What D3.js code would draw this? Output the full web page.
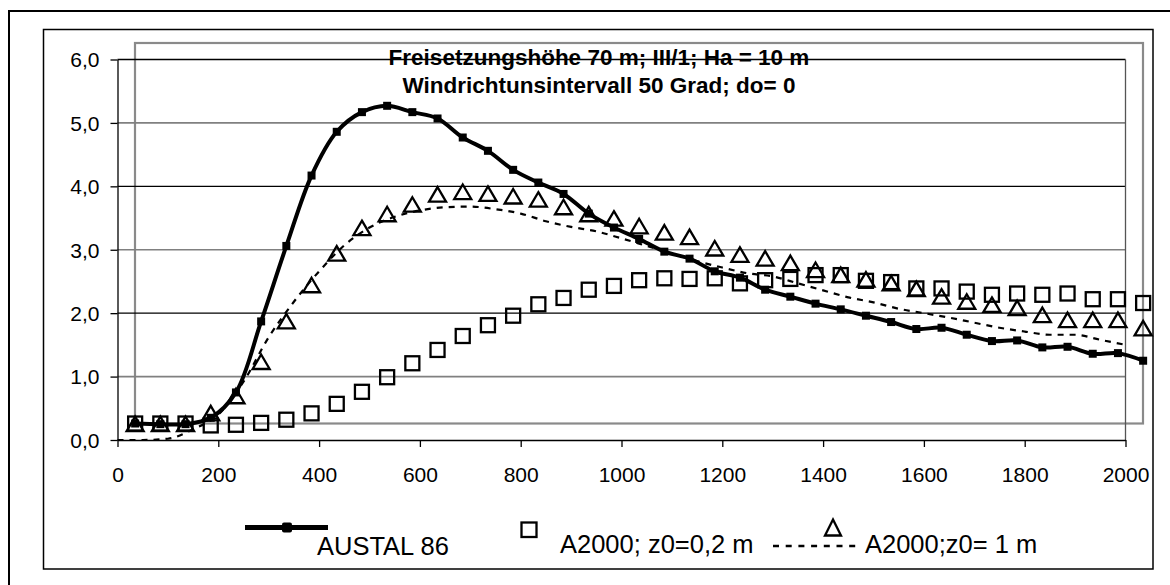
<!DOCTYPE html>
<html>
<head>
<meta charset="utf-8">
<script src="https://cdn.jsdelivr.net/npm/d3@7"></script>
<style>
  body { margin: 0; background: #fff; }
  svg { display: block; font-family: "Liberation Sans", Arial, sans-serif; }
  .axis text { font-size: 21px; fill: #000; }
  .axis path, .axis line { stroke: #000; stroke-width: 1.3; }
  .title { font-size: 22.5px; font-weight: bold; text-anchor: middle; }
  .legend-label { font-size: 25.5px; }
</style>
</head>
<body>
<svg id="chart"></svg>
<script>
// distance (m) of the model points
const distances = [35, 85, 135, 185, 235, 285, 335, 385, 435, 485, 535, 585, 635, 685, 735,
  785, 835, 885, 935, 985, 1035, 1085, 1135, 1185, 1235, 1285, 1335, 1385, 1435, 1485,
  1535, 1585, 1635, 1685, 1735, 1785, 1835, 1885, 1935, 1985, 2035];

const austal86 = [0.26, 0.25, 0.25, 0.35, 0.75, 1.87, 3.06, 4.17, 4.86, 5.17, 5.27, 5.17,
  5.07, 4.77, 4.56, 4.26, 4.06, 3.88, 3.57, 3.35, 3.17, 2.97, 2.86, 2.66, 2.56, 2.37,
  2.26, 2.15, 2.06, 1.96, 1.86, 1.75, 1.77, 1.66, 1.56, 1.57, 1.46, 1.47, 1.36, 1.37, 1.25];

const a2000z02 = [0.26, 0.26, 0.26, 0.23, 0.24, 0.27, 0.32, 0.42, 0.57, 0.76, 0.99, 1.21,
  1.42, 1.64, 1.81, 1.96, 2.14, 2.24, 2.37, 2.43, 2.52, 2.55, 2.54, 2.55, 2.47, 2.52,
  2.54, 2.60, 2.60, 2.51, 2.49, 2.39, 2.39, 2.34, 2.29, 2.31, 2.29, 2.31, 2.22, 2.22, 2.16];

const a2000z1 = [0.25, 0.25, 0.25, 0.42, 0.69, 1.23, 1.87, 2.44, 2.94, 3.34, 3.56, 3.71,
  3.87, 3.91, 3.88, 3.84, 3.79, 3.67, 3.56, 3.49, 3.37, 3.27, 3.20, 3.02, 2.92, 2.86,
  2.79, 2.68, 2.60, 2.53, 2.47, 2.38, 2.26, 2.18, 2.13, 2.08, 1.97, 1.89, 1.89, 1.89, 1.76];

// dotted curve (separate grid)
const curveDist = [0, 50, 100, 150, 200, 250, 300, 350, 400, 450, 500, 550, 600, 650, 700,
  750, 800, 850, 900, 950, 1000, 1050, 1100, 1150, 1200, 1250, 1300, 1350, 1400, 1450,
  1500, 1550, 1600, 1650, 1700, 1750, 1800, 1850, 1900, 1950, 2000];
const curveValues = [0.00, 0.00, 0.02, 0.17, 0.40, 0.92, 1.62, 2.18, 2.66, 3.07, 3.35,
  3.52, 3.62, 3.67, 3.68, 3.64, 3.57, 3.45, 3.36, 3.29, 3.18, 3.06, 2.94, 2.82, 2.72,
  2.63, 2.58, 2.47, 2.36, 2.25, 2.17, 2.07, 2.00, 1.93, 1.85, 1.77, 1.71, 1.66, 1.66,
  1.58, 1.50];

const xTicks = [0, 200, 400, 600, 800, 1000, 1200, 1400, 1600, 1800, 2000];
const yTicks = [0, 1, 2, 3, 4, 5, 6];
const titleLines = ["Freisetzungshöhe 70 m; III/1; Ha = 10 m", "Windrichtunsintervall 50 Grad; do= 0"];
const legendNames = ["AUSTAL 86", "A2000; z0=0,2 m", "A2000;z0= 1 m"];

const width = 1170, height = 585;
const svg = d3.select("#chart").attr("width", width).attr("height", height);

// frames
svg.append("rect").attr("x", 9).attr("y", 11).attr("width", 1200).attr("height", 620)
  .attr("fill", "none").attr("stroke", "#000").attr("stroke-width", 2);
svg.append("rect").attr("x", 43.5).attr("y", 29.5).attr("width", 1109.5).attr("height", 539.5)
  .attr("fill", "none").attr("stroke", "#000").attr("stroke-width", 1.5);

// scales
const x = d3.scaleLinear().domain([0, 2000]).range([117.5, 1125.5]);
const y = d3.scaleLinear().domain([0, 6]).range([440, 59.5]);

// shifted grey plot frame
svg.append("rect").attr("x", 135).attr("y", 43).attr("width", 1008).attr("height", 380.5)
  .attr("fill", "none").attr("stroke", "#8a8a8a").attr("stroke-width", 2.2);

// gridlines
svg.append("g").selectAll("line").data(yTicks.filter(d => d > 0)).join("line")
  .attr("x1", x(0)).attr("x2", x(2000))
  .attr("y1", d => y(d)).attr("y2", d => y(d))
  .attr("stroke", d => d % 2 === 0 ? "#000" : "#808080")
  .attr("stroke-width", d => d % 2 === 0 ? 1.3 : 1.6);
svg.append("line").attr("x1", x(2000)).attr("x2", x(2000)).attr("y1", y(6)).attr("y2", y(0))
  .attr("stroke", "#555").attr("stroke-width", 1.3);

// axes
const xAxis = d3.axisBottom(x).tickValues(xTicks).tickSize(7).tickSizeOuter(0)
  .tickFormat(d3.format("d"));
const yAxis = d3.axisLeft(y).tickValues(yTicks).tickSize(7).tickSizeOuter(0).tickPadding(11)
  .tickFormat(d => d.toFixed(1).replace(".", ","));

const xAxisG = svg.append("g").attr("class", "axis").attr("transform", `translate(0,${y(0)})`).call(xAxis);
xAxisG.selectAll("text").attr("y", 42).attr("dy", 0);
const yAxisG = svg.append("g").attr("class", "axis").attr("transform", `translate(${x(0)},0)`).call(yAxis);
yAxisG.selectAll("text").attr("dy", "0.35em");

// title
svg.selectAll(".title").data(titleLines).join("text")
  .attr("class", "title")
  .attr("x", 599)
  .attr("y", (d, i) => 65 + i * 28)
  .text(d => d);

// dotted series
const dotted = curveDist.map((d, i) => ({ x: d, v: curveValues[i] }));
svg.append("path").datum(dotted)
  .attr("fill", "none").attr("stroke", "#000").attr("stroke-width", 2.2)
  .attr("stroke-dasharray", "6,6")
  .attr("d", d3.line().x(d => x(d.x)).y(d => y(d.v)).curve(d3.curveMonotoneX));

// AUSTAL 86
const austal = distances.map((d, i) => ({ x: d, v: austal86[i] }));
svg.append("path").datum(austal)
  .attr("fill", "none").attr("stroke", "#000").attr("stroke-width", 4)
  .attr("stroke-linejoin", "round")
  .attr("d", d3.line().x(d => x(d.x)).y(d => y(d.v)).curve(d3.curveCatmullRom));
svg.append("g").selectAll("rect").data(austal).join("rect")
  .attr("x", d => x(d.x) - 4).attr("y", d => y(d.v) - 4)
  .attr("width", 8).attr("height", 8).attr("fill", "#000");

// A2000 z0=0,2 m (hollow squares)
svg.append("g").selectAll("rect").data(distances.map((d, i) => ({ x: d, v: a2000z02[i] })))
  .join("rect")
  .attr("x", d => x(d.x) - 7).attr("y", d => y(d.v) - 7)
  .attr("width", 14).attr("height", 14)
  .attr("fill", "none").attr("stroke", "#000").attr("stroke-width", 2.3);

// A2000 z0=1 m (hollow triangles)
svg.append("g").selectAll("path").data(distances.map((d, i) => ({ x: d, v: a2000z1[i] })))
  .join("path")
  .attr("transform", d => `translate(${x(d.x)},${y(d.v)})`)
  .attr("d", "M0,-7.5L8.5,7L-8.5,7Z")
  .attr("fill", "none").attr("stroke", "#000").attr("stroke-width", 2.3)
  .attr("stroke-linejoin", "miter");

// legend
const legend = svg.append("g");
legend.append("line").attr("x1", 245).attr("x2", 328).attr("y1", 527.5).attr("y2", 527.5)
  .attr("stroke", "#000").attr("stroke-width", 5);
legend.append("rect").attr("x", 282).attr("y", 522.5).attr("width", 10).attr("height", 10)
  .attr("rx", 2).attr("fill", "#000");
legend.append("rect").attr("x", 521.5).attr("y", 522.5).attr("width", 15).attr("height", 14.5)
  .attr("fill", "none").attr("stroke", "#000").attr("stroke-width", 2.3);
legend.append("line").attr("x1", 773).attr("x2", 856).attr("y1", 546).attr("y2", 546)
  .attr("stroke", "#000").attr("stroke-width", 2.3).attr("stroke-dasharray", "6,6.7");
legend.append("path").attr("d", "M833,519.5L841,535.5L825,535.5Z")
  .attr("fill", "none").attr("stroke", "#000").attr("stroke-width", 2.3);
legend.selectAll("text").data(legendNames).join("text")
  .attr("class", "legend-label")
  .attr("x", (d, i) => [317, 560, 865][i])
  .attr("y", (d, i) => [555, 553, 553][i])
  .text(d => d);
</script>
</body>
</html>
